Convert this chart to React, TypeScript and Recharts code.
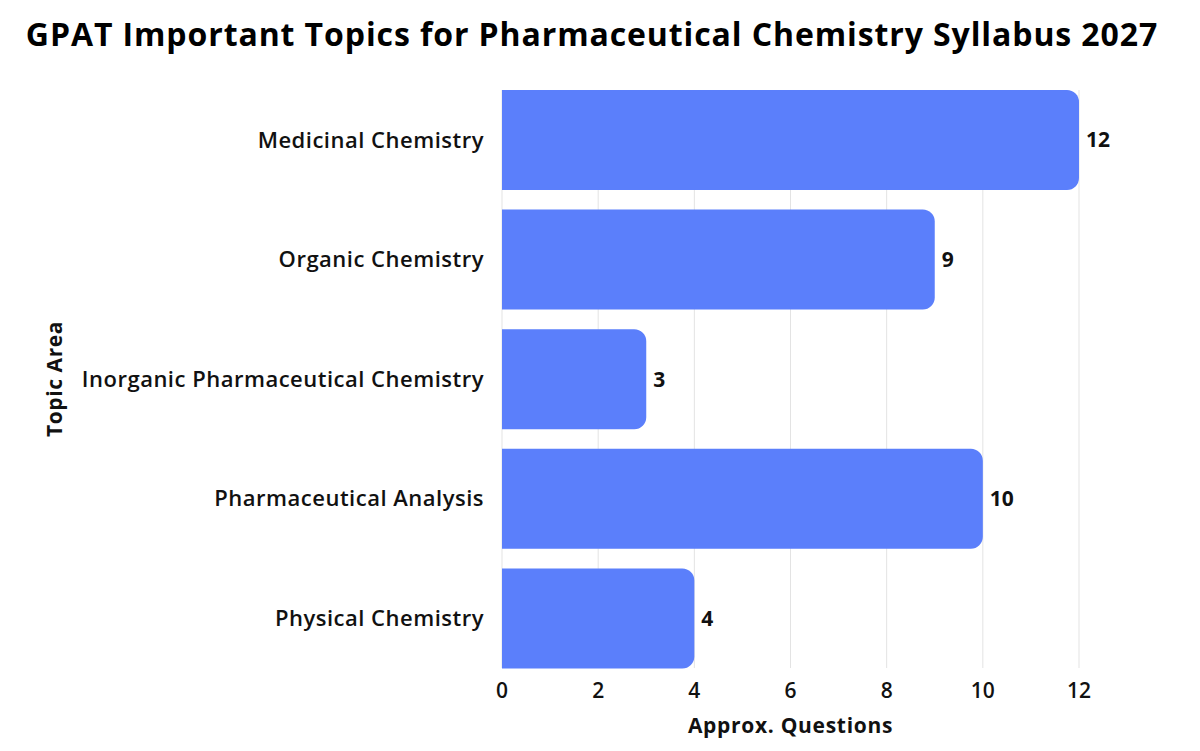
import React from 'react';
import { BarChart, Bar, XAxis, YAxis, CartesianGrid, LabelList } from 'recharts';

const topics = [
  'Medicinal Chemistry',
  'Organic Chemistry',
  'Inorganic Pharmaceutical Chemistry',
  'Pharmaceutical Analysis',
  'Physical Chemistry',
];
const questions = [12, 9, 3, 10, 4];
const xTicks = [0, 2, 4, 6, 8, 10, 12];

const data = topics.map((t, i) => ({ topic: t, value: questions[i] }));

const FONT = '"Open Sans", Inter, sans-serif';

export default function App() {
  return (
    <div style={{ position: 'absolute', left: 0, top: 0, width: 1200, height: 751, background: '#fff', fontFamily: FONT }}>
      <div
        style={{
          position: 'absolute',
          left: 0,
          top: 12,
          width: 1184,
          textAlign: 'center',
          fontSize: 32,
          fontWeight: 700,
          letterSpacing: 0.9,
          color: '#000',
          lineHeight: '44px',
        }}
      >
        GPAT Important Topics for Pharmaceutical Chemistry Syllabus 2027
      </div>
      <BarChart
        width={1200}
        height={751}
        data={data}
        layout="vertical"
        margin={{ top: 90, right: 121, bottom: 23, left: 0 }}
        barCategoryGap={10}
      >
        <CartesianGrid horizontal={false} stroke="#e3e3e3" />
        <XAxis
          type="number"
          domain={[0, 12]}
          ticks={xTicks}
          axisLine={false}
          tickLine={false}
          height={60}
          tickMargin={9}
          tick={{ fill: '#111', fontSize: 21, fontWeight: 600, fontFamily: FONT }}
          label={{ value: 'Approx. Questions', position: 'insideBottom', offset: -5, fill: '#111', fontSize: 21, fontWeight: 700, fontFamily: FONT, letterSpacing: 0.7 }}
        />
        <YAxis
          type="category"
          dataKey="topic"
          width={502}
          axisLine={false}
          tickLine={false}
          tickMargin={12}
          padding={{ top: -10, bottom: -10 }}
          tick={{ fill: '#111', fontSize: 22, fontWeight: 650, fontFamily: FONT, letterSpacing: 0.5 }}
          label={{ value: 'Topic Area', angle: -90, position: 'insideLeft', offset: 55, fill: '#111', fontSize: 21, fontWeight: 700, fontFamily: FONT, letterSpacing: 0.6, style: { textAnchor: 'middle' } }}
        />
        <Bar dataKey="value" fill="#5b7ffb" radius={[0, 12, 12, 0]} isAnimationActive={false}>
          <LabelList dataKey="value" position="right" offset={7} fill="#111" fontSize={21} fontWeight={700} fontFamily={FONT} />
        </Bar>
      </BarChart>
    </div>
  );
}
